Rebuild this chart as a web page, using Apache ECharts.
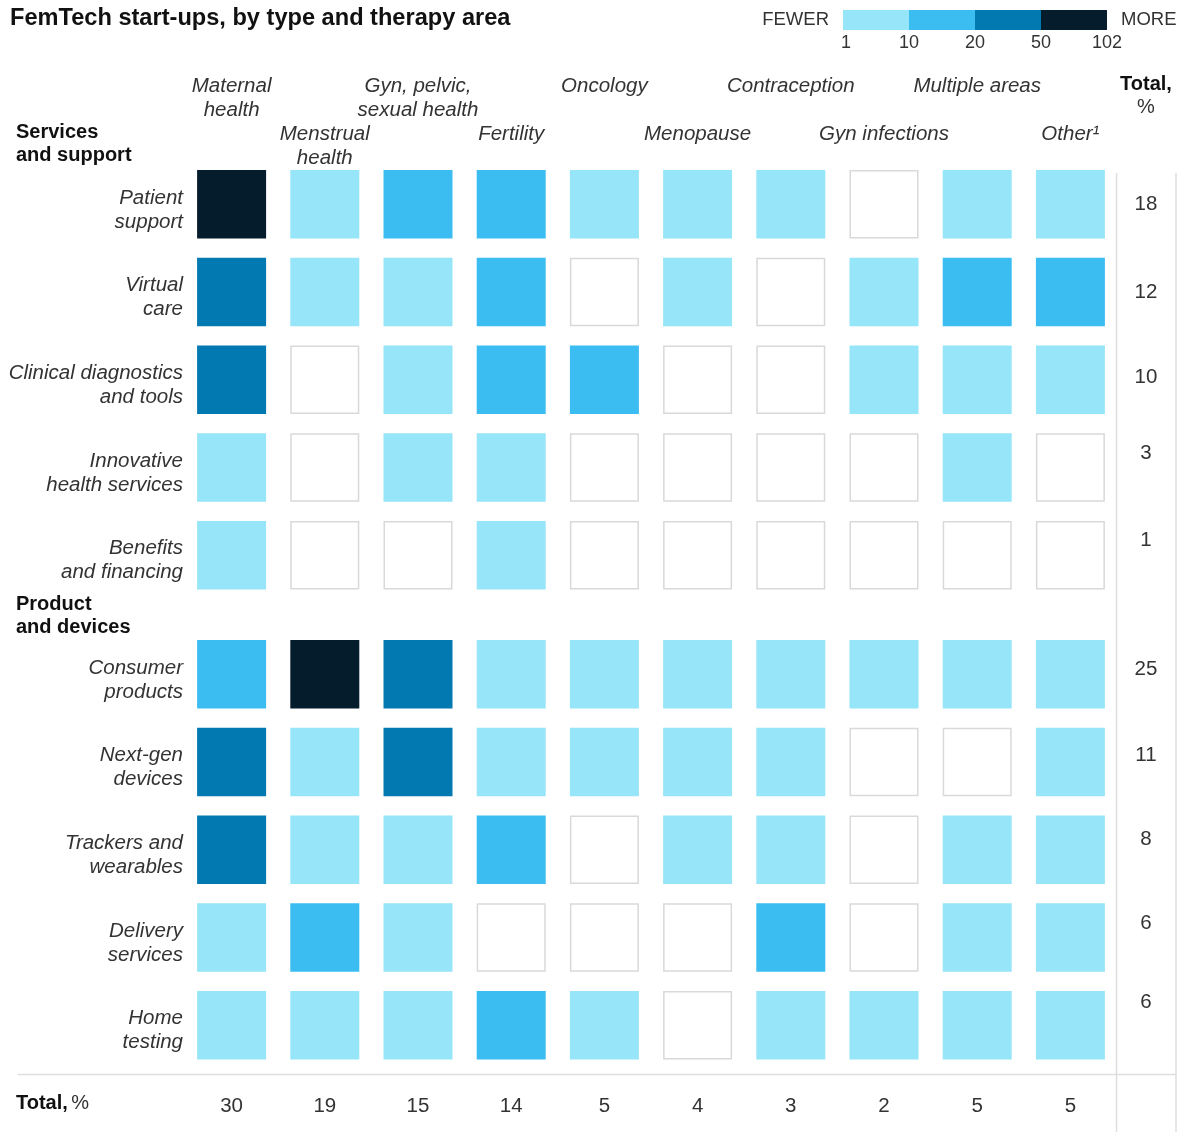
<!DOCTYPE html>
<html><head><meta charset="utf-8">
<script src="https://cdn.jsdelivr.net/npm/echarts@6/dist/echarts.min.js"></script>
<style>html,body{margin:0;padding:0;background:#fff}#c{width:1186px;height:1132px}</style>
</head><body><div id="c"></div>
<script>
// ---------- data ----------
const therapyAreas = ['Maternal\nhealth', 'Menstrual\nhealth', 'Gyn, pelvic,\nsexual health', 'Fertility', 'Oncology',
  'Menopause', 'Contraception', 'Gyn infections', 'Multiple areas', 'Other\u00b9'];
const servicesRows = ['Patient\nsupport', 'Virtual\ncare', 'Clinical diagnostics\nand tools', 'Innovative\nhealth services', 'Benefits\nand financing'];
const productRows = ['Consumer\nproducts', 'Next-gen\ndevices', 'Trackers and\nwearables', 'Delivery\nservices', 'Home\ntesting'];
// estimated start-up counts (row = type, column = therapy area)
const servicesCounts = [
  [56, 4, 14, 13, 3, 3, 2, 0, 4, 5],
  [32, 3, 5, 12, 0, 4, 0, 2, 11, 12],
  [28, 0, 6, 13, 12, 0, 0, 3, 4, 3],
  [5, 0, 4, 6, 0, 0, 0, 0, 3, 0],
  [3, 0, 0, 2, 0, 0, 0, 0, 0, 0]
];
const productCounts = [
  [16, 102, 38, 6, 4, 7, 5, 2, 5, 4],
  [24, 5, 26, 4, 3, 3, 3, 0, 0, 3],
  [23, 6, 5, 11, 0, 4, 2, 0, 3, 3],
  [6, 11, 3, 0, 0, 0, 11, 0, 2, 2],
  [4, 3, 4, 15, 5, 0, 2, 3, 3, 3]
];
const servicesTotals = [18, 12, 10, 3, 1];
const productTotals = [25, 11, 8, 6, 6];
const areaTotals = [30, 19, 15, 14, 5, 4, 3, 2, 5, 5];
const legendBreaks = [1, 10, 20, 50, 102];
const binColors = ['#96e5f8', '#3bbdf2', '#0279b0', '#051c2c'];

// ---------- style / layout ----------
const FONT = '"Liberation Sans", Arial, Helvetica, sans-serif';
const TXT = '#333333';
const FS = 20.5;
const servicesShift = [0, 0, -2, -14, -15];
const productShift = [-5, -7, -10, -14, -23];

function colorFor(v) {
  for (let i = 0; i < binColors.length; i++) {
    if (v <= legendBreaks[i + 1] && (i === 0 || v > legendBreaks[i])) return binColors[i];
  }
  return binColors[binColors.length - 1];
}

function cellData(matrix) {
  const out = [];
  matrix.forEach((row, r) => row.forEach((v, c) => {
    if (v > 0) {
      out.push({ value: [c, r, v], symbolSize: [69, 68.5], itemStyle: { color: colorFor(v), opacity: 1 } });
    } else {
      out.push({ value: [c, r, v], symbolSize: [67.5, 67], itemStyle: { color: '#ffffff', opacity: 1, borderColor: '#d9d9d9', borderWidth: 1.5 } });
    }
  }));
  return out;
}

function cellSeries(g, matrix) {
  return { type: 'scatter', xAxisIndex: g, yAxisIndex: g, symbol: 'rect', silent: true,
    itemStyle: { opacity: 1 }, data: cellData(matrix), emphasis: { disabled: true } };
}

function totalsSeries(g, totals, shifts) {
  return {
    type: 'custom', xAxisIndex: g, yAxisIndex: g, silent: true,
    data: totals.map((t, r) => [therapyAreas.length - 1, r, t]),
    encode: { x: 0, y: 1 },
    renderItem: (params, api) => {
      const p = api.coord([api.value(0), api.value(1)]);
      const cs = params.coordSys;
      return { type: 'text', x: cs.x + cs.width + 29, y: p[1] + shifts[params.dataIndex],
        style: { text: String(api.value(2)), fill: TXT, fontSize: FS, fontFamily: FONT, align: 'center', verticalAlign: 'middle' } };
    }
  };
}

function rowAxis(g, rows) {
  const t = { fontStyle: 'italic', fontSize: FS, lineHeight: 24, color: TXT, fontFamily: FONT, align: 'right' };
  return { gridIndex: g, type: 'category', inverse: true, data: rows,
    axisLine: { show: false }, axisTick: { show: false }, splitLine: { show: false },
    axisLabel: { interval: 0, margin: 2, align: 'right', fontSize: FS, fontFamily: FONT, color: TXT,
      formatter: v => '{s|}\n' + v.split('\n').map(l => '{t|' + l + '}').join('\n'),
      rich: { s: { lineHeight: 11, fontSize: 1, align: 'right' }, t: t } } };
}

// legend graphics
const legX0 = 843, legW = 66;
const legendEls = [];
binColors.forEach((c, i) => legendEls.push({ type: 'rect', shape: { x: legX0 + i * legW, y: 10, width: legW, height: 20 }, style: { fill: c } }));
legendBreaks.forEach((b, i) => legendEls.push({ type: 'text', x: legX0 + i * legW + (i === 0 ? 3 : 0), y: 43,
  style: { text: String(b), fill: TXT, fontSize: 18, fontFamily: FONT, align: 'center', verticalAlign: 'middle' } }));
legendEls.push({ type: 'text', x: 829, y: 20, style: { text: 'FEWER', fill: TXT, fontSize: 18.5, fontFamily: FONT, align: 'right', verticalAlign: 'middle' } });
legendEls.push({ type: 'text', x: 1121, y: 20, style: { text: 'MORE', fill: TXT, fontSize: 18.5, fontFamily: FONT, align: 'left', verticalAlign: 'middle' } });

const option = {
  animation: false,
  backgroundColor: '#ffffff',
  grid: [
    { left: 185, width: 932, top: 160.5, height: 438.5 },
    { left: 185, width: 932, top: 630.5, height: 438.5 }
  ],
  xAxis: [
    { gridIndex: 0, type: 'category', data: therapyAreas, position: 'top',
      axisLine: { show: false }, axisTick: { show: false }, splitLine: { show: false },
      axisLabel: { interval: 0, verticalAlign: 'top', margin: 86.5, fontStyle: 'italic', fontSize: FS, lineHeight: 24,
        color: TXT, fontFamily: FONT, formatter: (v, i) => (i % 2 ? '\n\n' + v : v) } },
    { gridIndex: 1, type: 'category', data: therapyAreas, position: 'bottom',
      axisLine: { show: false }, axisTick: { show: false }, splitLine: { show: false },
      axisLabel: { interval: 0, margin: 27, fontSize: FS, color: TXT, fontFamily: FONT,
        formatter: (v, i) => String(areaTotals[i]) } }
  ],
  yAxis: [rowAxis(0, servicesRows), rowAxis(1, productRows)],
  series: [
    cellSeries(0, servicesCounts), cellSeries(1, productCounts),
    totalsSeries(0, servicesTotals, servicesShift), totalsSeries(1, productTotals, productShift)
  ],
  graphic: [
    { type: 'text', x: 10, y: 18, style: { text: 'FemTech start-ups, by type and therapy area', fill: '#111', fontSize: 23.6,
      fontWeight: 'bold', fontFamily: FONT, verticalAlign: 'middle' } },
    { type: 'text', x: 16, y: 121, style: { text: 'Services\nand support', fill: '#111', fontSize: 20, lineHeight: 23,
      fontWeight: 'bold', fontFamily: FONT } },
    { type: 'text', x: 16, y: 593, style: { text: 'Product\nand devices', fill: '#111', fontSize: 20, lineHeight: 23,
      fontWeight: 'bold', fontFamily: FONT } },
    { type: 'text', x: 16, y: 1103, style: { text: '{b|Total,} {r|%}', verticalAlign: 'middle', fontFamily: FONT,
      rich: { b: { fontWeight: 'bold', fontSize: 20, fill: '#111', fontFamily: FONT }, r: { fontSize: 20, fill: TXT, fontFamily: FONT } } } },
    { type: 'text', x: 1146, y: 73, style: { text: '{b|Total,}\n{r|%}', align: 'center', fontFamily: FONT,
      rich: { b: { fontWeight: 'bold', fontSize: 20, lineHeight: 23, fill: '#111', fontFamily: FONT, align: 'center' },
        r: { fontSize: 20, lineHeight: 23, fill: TXT, fontFamily: FONT, align: 'center' } } } },
    { type: 'line', shape: { x1: 1116.5, y1: 173, x2: 1116.5, y2: 1132 }, style: { stroke: '#dedede', lineWidth: 1.5 } },
    { type: 'line', shape: { x1: 1176, y1: 173, x2: 1176, y2: 1132 }, style: { stroke: '#dedede', lineWidth: 1.5 } },
    { type: 'line', shape: { x1: 18, y1: 1074.5, x2: 1176, y2: 1074.5 }, style: { stroke: '#dedede', lineWidth: 1.5 } }
  ].concat(legendEls)
};

const chart = echarts.init(document.getElementById('c'), null, { renderer: 'canvas' });
chart.setOption(option);
</script>
</body></html>
